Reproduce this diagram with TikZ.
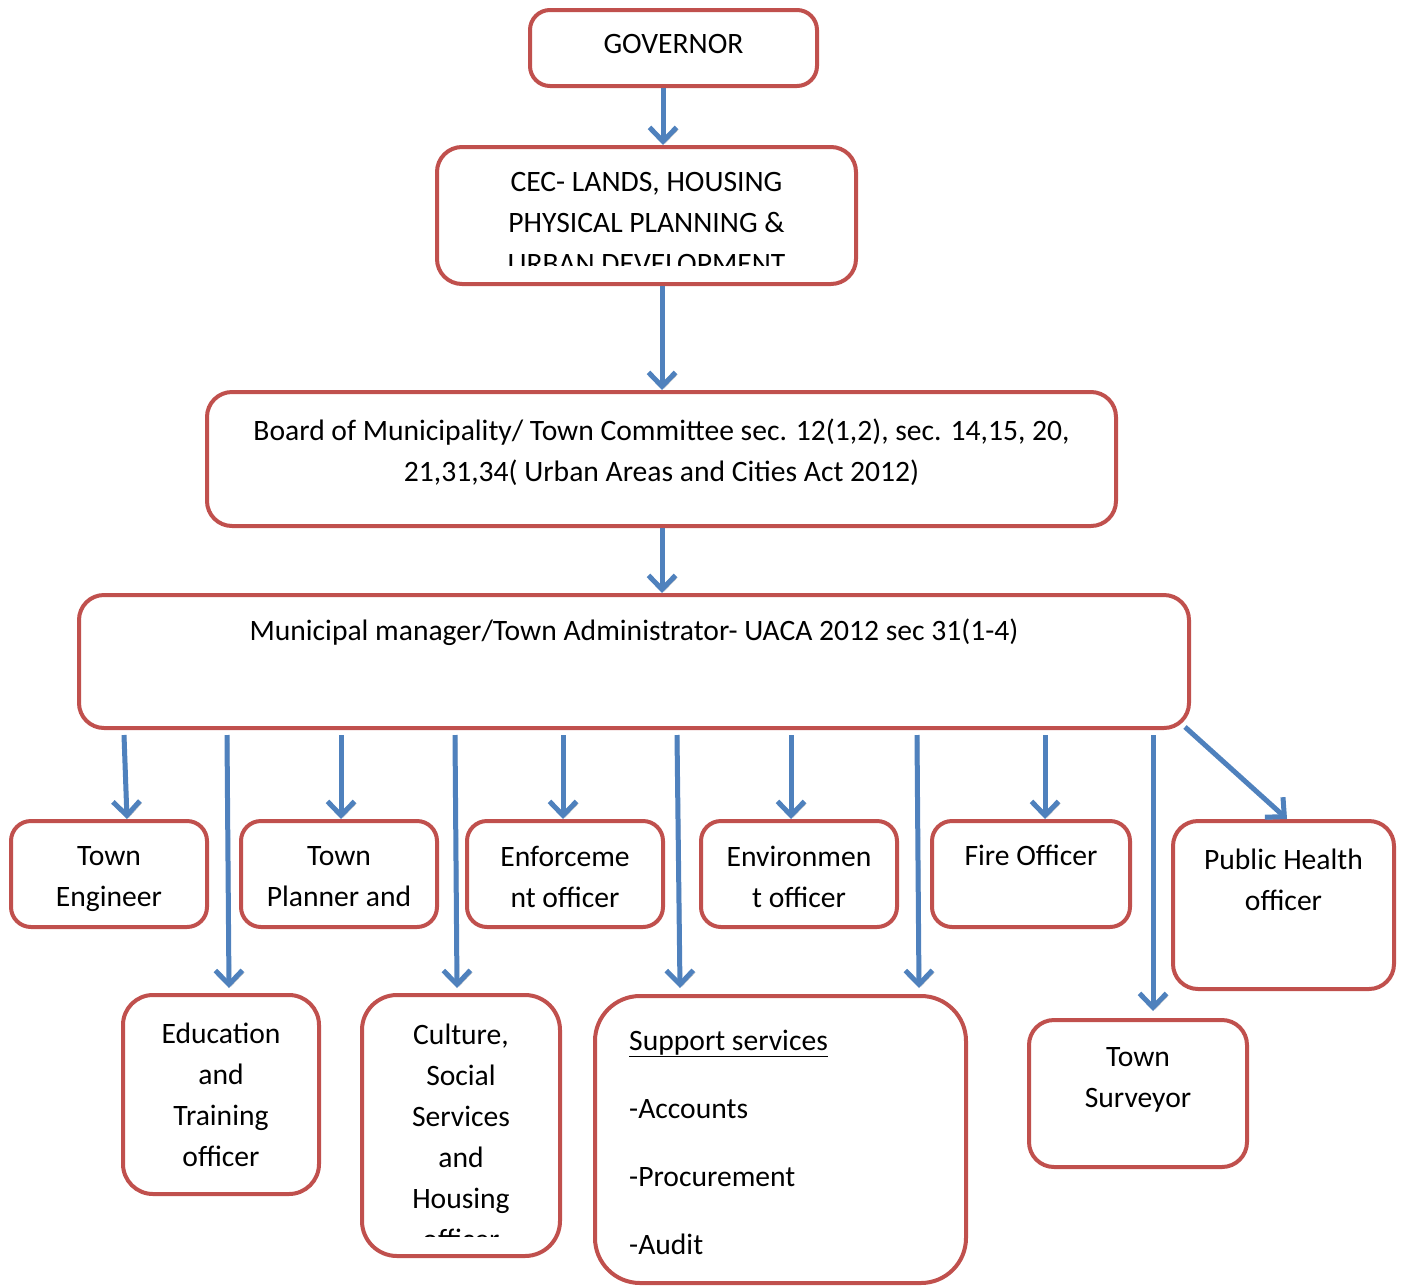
\documentclass[tikz,border=0pt]{standalone}
\usepackage{fontspec}
\setmainfont{Carlito}
\usepackage{tikz}
\usetikzlibrary{arrows.meta}
\definecolor{boxred}{RGB}{192,80,77}
\definecolor{arrowblue}{RGB}{79,129,189}
\newcommand{\orgfont}{\fontsize{29.6}{41}\selectfont}

\begin{document}
\begin{tikzpicture}[x=1pt, y=-1pt, every node/.style={font=\orgfont},
  box/.style={draw=boxred, line width=4pt, rounded corners=20pt, fill=white, inner sep=0pt},
  txt/.style={align=center, inner sep=0pt, anchor=north, execute at begin node=\strut, execute at end node=\strut},
  arr/.style={draw=arrowblue, line width=5pt, -{Straight Barb[length=14pt,width=27pt]},
    preaction={draw=black!30, transform canvas={shift={(2pt,-2pt)}}}}]
\useasboundingbox (0,0) rectangle (1401,1286);
% top of the chain
\node[box, minimum width=287pt, minimum height=76pt] (gov) at (673.5,48) {};
\node[txt] (gov-t) at (673.5,24.8) {GOVERNOR};
\node[box, minimum width=419pt, minimum height=137pt, rounded corners=25pt] (cec) at (646.5,215.5) {};
\begin{scope}
\clip (441,151) rectangle (852,265);
\node[txt] (cec-t) at (646.5,171.8) {CEC- LANDS, HOUSING\\PHYSICAL PLANNING \&\\URBAN DEVELOPMENT};
\end{scope}
\node[box, minimum width=909pt, minimum height=134pt, rounded corners=25pt] (board) at (661.5,459) {};
\node[txt] (board-t) at (661.5,418.8) {Board of Municipality/ Town Committee sec. 12(1,2), sec. 14,15, 20,\\21,31,34( Urban Areas and Cities Act 2012)};
\node[box, minimum width=1110pt, minimum height=133pt, rounded corners=25pt] (mgr) at (634,661.5) {};
\node[txt] (mgr-t) at (634,611.8) {Municipal manager/Town Administrator- UACA 2012 sec 31(1-4)};
% first row of officers
\node[box, minimum width=196pt, minimum height=106pt] (eng) at (109,874) {};
\node[txt] (eng-t) at (109,845.8) {Town\\Engineer};
\node[box, minimum width=196pt, minimum height=106pt] (plan) at (339,874) {};
\node[txt] (plan-t) at (339,845.8) {Town\\Planner and};
\node[box, minimum width=196pt, minimum height=106pt] (enf) at (565,874) {};
\node[txt] (enf-t) at (565,845.8) {Enforceme\\nt officer};
\node[box, minimum width=196pt, minimum height=106pt] (env) at (799,874) {};
\node[txt] (env-t) at (799,845.8) {Environmen\\t officer};
\node[box, minimum width=198pt, minimum height=106pt] (fire) at (1031,874) {};
\node[txt] (fire-t) at (1031,836.8) {Fire Officer};
\node[box, minimum width=221pt, minimum height=168pt, rounded corners=25pt] (ph) at (1283.5,905) {};
\node[txt] (ph-t) at (1283.5,848.8) {Public Health\\officer};
% second row
\node[box, minimum width=196pt, minimum height=199pt, rounded corners=30pt] (edu) at (221,1094.5) {};
\node[txt] (edu-t) at (221,1022.8) {Education\\and\\Training\\officer};
\node[box, minimum width=198pt, minimum height=261pt, rounded corners=35pt] (cul) at (461,1125.5) {};
\begin{scope}
\clip (366,999) rectangle (556,1236);
\node[txt] (cul-t) at (461,1023.8) {Culture,\\Social\\Services\\and\\Housing\\officer};
\end{scope}
\node[box, minimum width=371pt, minimum height=287pt, rounded corners=45pt] (sup) at (780.5,1139.5) {};
\node[txt, align=left, anchor=north west] (sup-t) at (629,1029.8) {\underline{Support services}\\[27pt]-Accounts\\[27pt]-Procurement\\[27pt]-Audit};
\node[box, minimum width=218pt, minimum height=147pt, rounded corners=25pt] (sur) at (1138,1093.5) {};
\node[txt] (sur-t) at (1138,1046.8) {Town\\Surveyor};
% connectors
\draw[arr] (gov.south -| 663,0) -- (cec.north -| 663,0);
\draw[arr] (cec.south -| 662,0) -- (board.north -| 662,0);
\draw[arr] (board.south -| 662,0) -- (mgr.north -| 662,0);
\draw[arr] ([yshift=-5pt]mgr.south -| 124,0) -- (eng.north -| 127,0);
\draw[arr] ([yshift=-5pt]mgr.south -| 227,0) -- ([yshift=5pt]edu.north -| 229,0);
\draw[arr] ([yshift=-5pt]mgr.south -| 341,0) -- (plan.north -| 341,0);
\draw[arr] ([yshift=-5pt]mgr.south -| 455,0) -- ([yshift=5pt]cul.north -| 457,0);
\draw[arr] ([yshift=-5pt]mgr.south -| 563,0) -- (enf.north -| 563,0);
\draw[arr] ([yshift=-5pt]mgr.south -| 677,0) -- ([yshift=6pt]sup.north -| 680,0);
\draw[arr] ([yshift=-5pt]mgr.south -| 791,0) -- (env.north -| 791,0);
\draw[arr] ([yshift=-5pt]mgr.south -| 917,0) -- ([yshift=6pt]sup.north -| 919,0);
\draw[arr] ([yshift=-5pt]mgr.south -| 1045,0) -- (fire.north -| 1045,0);
\draw[arr] ([yshift=-5pt]mgr.south -| 1153,0) -- ([yshift=7pt]sur.north -| 1153,0);
\draw[arr] ([xshift=-6pt,yshift=3pt]mgr.south east) -- (ph.north -| 1287,0);
\end{tikzpicture}
\end{document}
